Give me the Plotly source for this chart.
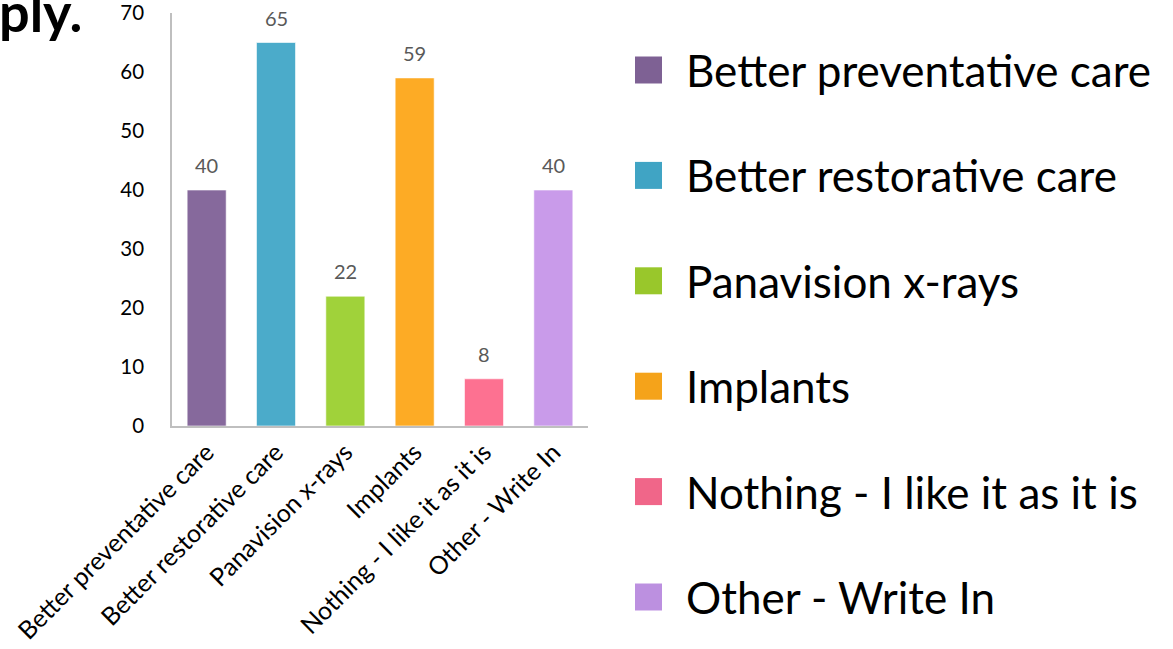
import plotly.graph_objects as go

categories = ["Better preventative care", "Better restorative care", "Panavision x-rays",
              "Implants", "Nothing - I like it as it is", "Other - Write In"]
values = [40, 65, 22, 59, 8, 40]
bar_colors = ["#86699C", "#4BABCA", "#A0D23A", "#FDAB25", "#FD7191", "#C99BEA"]
legend_colors = ["#7E6194", "#40A4C4", "#99C72B", "#F5A31A", "#F06689", "#BC90E0"]
y_ticks = [0, 10, 20, 30, 40, 50, 60, 70]
title_fragment = "ply."

W, H = 1173, 649
ML = 172
MT = 13
MB = H - 426
plot_w = W - ML
plot_h = H - MT - MB
font = "Lato"

def px_x(p):
    return (p - ML) / plot_w

def px_y(p):
    return (H - MB - p) / plot_h

fig = go.Figure()
fig.add_trace(go.Bar(
    x=categories, y=values,
    marker=dict(color=bar_colors, line=dict(width=1, color="rgba(255,255,255,0.6)")),
    showlegend=False, hoverinfo="x+y",
))

annotations = []
for c, v in zip(categories, values):
    annotations.append(dict(x=c, y=v, xref="x", yref="y", text=str(v), showarrow=False,
                            yanchor="middle", yshift=25,
                            font=dict(family=font, size=20, color="#595959")))

shapes = []
row0, step, sq = 70, 105.4, 27
for i, (c, col) in enumerate(zip(categories, legend_colors)):
    cy = row0 + i * step
    shapes.append(dict(type="rect", xref="paper", yref="paper",
                       x0=px_x(635), x1=px_x(662), y0=px_y(cy - sq / 2), y1=px_y(cy + sq / 2),
                       fillcolor=col, line=dict(width=0)))
    annotations.append(dict(x=px_x(684), y=px_y(cy), xref="paper", yref="paper", text=c,
                            showarrow=False, xanchor="left", yanchor="middle",
                            font=dict(family=font, size=44, color="#000000")))

annotations.append(dict(x=px_x(84), y=px_y(12), xref="paper", yref="paper", text="<b>" + title_fragment + "</b>",
                        showarrow=False, xanchor="right", yanchor="middle",
                        font=dict(family=font, size=54, color="#000000")))

fig.update_layout(
    width=W, height=H,
    margin=dict(l=ML, r=0, t=MT, b=MB),
    paper_bgcolor="white", plot_bgcolor="white",
    bargap=0.437,
    annotations=annotations, shapes=shapes,
    font=dict(family=font, color="#000000"),
    xaxis=dict(domain=[0, (588 - ML) / plot_w], showline=True, linecolor="#BFBFBF", linewidth=1.5,
               ticks="", tickangle=-45, tickfont=dict(family=font, size=25, color="#000000"),
               showgrid=False, zeroline=False),
    yaxis=dict(range=[0, 70], tickvals=y_ticks, showline=True, linecolor="#BFBFBF", linewidth=1.5,
               ticks="", ticklabelstandoff=22, tickfont=dict(family=font, size=20.5, color="#000000"),
               showgrid=False, zeroline=False),
)

fig.write_html("out.html", config={"displayModeBar": False},
               post_script="document.body.style.margin='0px';")
